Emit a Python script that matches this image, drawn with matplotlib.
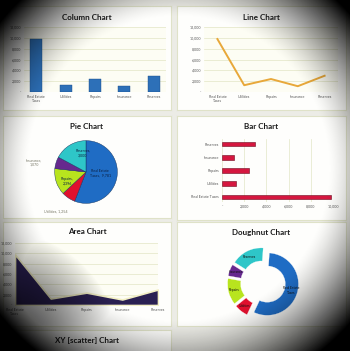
import matplotlib.pyplot as plt
import numpy as np

categories = ['Real Estate Taxes', 'Utilities', 'Repairs', 'Insurance', 'Reserves']
cat_labels = ['Real Estate\nTaxes', 'Utilities', 'Repairs', 'Insurance', 'Reserves']
values = [9781, 1254, 2396, 1070, 3000]
pie_colors = ['#1f6cc4', '#e0102e', '#b8e41e', '#66298e', '#2ec6c8']

W, H = 350, 351
plt.rcParams['font.family'] = ['Lato', 'DejaVu Sans']
fig = plt.figure(figsize=(W / 100, H / 100), dpi=100)
fig.patch.set_facecolor('#ecece6')


def box(x0, y0, x1, y1):
    # pixel box (top-left origin) -> figure fraction
    return [x0 / W, 1 - y1 / H, (x1 - x0) / W, (y1 - y0) / H]


def panel(x0, y0, x1, y1, title, ty):
    p = fig.add_axes(box(x0, y0, x1, y1))
    p.set_xticks([])
    p.set_yticks([])
    p.set_facecolor('#fefefc')
    for s in p.spines.values():
        s.set_color('#dfe2c8')
        s.set_linewidth(0.8)
    fig.text(((x0 + x1) / 2) / W, 1 - ty / H, title, ha='center', va='center',
             fontsize=5.8, fontweight='bold', color='#1a1a1a')


def tidy(ax):
    ax.set_facecolor('#fdfdf4')
    for s in ax.spines.values():
        s.set_visible(False)
    ax.tick_params(length=0, labelsize=2.6, colors='#555555', pad=2)


def money(v):
    return '-' if v == 0 else f'{v:,}'


panel(3, 6, 171, 110, 'Column Chart', 17)
panel(177, 6, 346, 110, 'Line Chart', 17)
panel(3, 116, 171, 218, 'Pie Chart', 126)
panel(177, 116, 346, 220, 'Bar Chart', 126)
panel(3, 222, 171, 326, 'Area Chart', 232)
panel(177, 222, 346, 326, 'Doughnut Chart', 232)
panel(3, 330, 171, 360, 'XY [scatter] Chart', 340)

yt = list(range(0, 12001, 2000))
x = np.arange(len(values))

# column chart
ax = fig.add_axes(box(24, 27, 166, 92))
tidy(ax)
ax.bar(x, values, width=0.4, color='#2d70b8', edgecolor='#1c4c86', linewidth=0.3)
ax.set_ylim(0, 12000)
ax.set_yticks(yt, [money(v) for v in yt])
ax.set_xticks(x, cat_labels)
ax.yaxis.grid(True, color='#e2e6c6', linewidth=0.5)
ax.set_axisbelow(True)

# line chart
ax = fig.add_axes(box(204, 27, 338, 92))
tidy(ax)
ax.plot(x, values, color='#e8a83a', linewidth=1.4)
ax.set_ylim(0, 12000)
ax.set_xlim(-0.5, 4.5)
ax.set_yticks(yt, [money(v) for v in yt])
ax.set_xticks(x, cat_labels)
ax.yaxis.grid(True, color='#e2e6c6', linewidth=0.5)

# pie chart
ax = fig.add_axes(box(54, 140, 118, 204))
ax.pie(values, colors=pie_colors, startangle=90, counterclock=False,
       wedgeprops=dict(edgecolor='#10305a', linewidth=0.3))
ax.set_xlim(-1.02, 1.02)
ax.set_ylim(-1.02, 1.02)
ax.set_aspect('equal')
ax.text(0.45, -0.05, 'Real Estate\nTaxes,  9,781', ha='center', va='center', fontsize=2.6, color='#0b1f40')
ax.text(-0.1, 0.6, 'Reserves,\n3,000', ha='center', va='center', fontsize=2.6, color='#0b1f40')
ax.text(-0.6, -0.3, 'Repairs,\n2,396', ha='center', va='center', fontsize=2.6, color='#0b1f40')
ax.text(-1.65, 0.3, 'Insurance,\n1,070', ha='center', va='center', fontsize=2.6, color='#777766')
ax.text(-0.95, -1.25, 'Utilities, 1,254', ha='center', va='center', fontsize=2.6, color='#777766')

# bar chart
ax = fig.add_axes(box(222, 139, 333, 202))
tidy(ax)
xt = list(range(0, 10001, 2000))
ax.barh(x, values, height=0.35, color='#d5173f', edgecolor='#6e0a1e', linewidth=0.4)
ax.set_xlim(0, 10000)
ax.set_xticks(xt, [money(v) for v in xt])
ax.set_yticks(x, categories)
ax.xaxis.grid(True, color='#e2e6c6', linewidth=0.5)
ax.set_axisbelow(True)
ax.set_facecolor('#fefefc')

# area chart
ax = fig.add_axes(box(15, 243, 158, 305))
tidy(ax)
ax.fill_between(x, values, color='#2a2052', edgecolor='#f2efc4', linewidth=1.2)
ax.set_xlim(0, 4)
ax.set_ylim(0, 12000)
ax.set_yticks(yt, [money(v) for v in yt])
ax.set_xticks(x, cat_labels)
ax.yaxis.grid(True, color='#e2e6c6', linewidth=0.5)
ax.set_axisbelow(True)

# doughnut chart
ax = fig.add_axes(box(222, 244, 304, 322))
ax.pie(values, colors=pie_colors, startangle=86, counterclock=False,
       explode=[0.14] * 5, wedgeprops=dict(width=0.42, edgecolor='white', linewidth=0.2),
       labels=['Real Estate\nTaxes', 'Utilities', 'Repairs', 'Insurance', 'Reserves'],
       labeldistance=0.8, textprops=dict(fontsize=2.4, color='#111111', ha='center', va='center'))
ax.set_aspect('equal')

# photo vignette
ov = fig.add_axes([0, 0, 1, 1], zorder=50)
ov.axis('off')
yy, xx = np.mgrid[0:H, 0:W]
d = np.sqrt(((xx - 178) / 178.0) ** 2 + ((yy - 168) / 180.0) ** 2)
a = np.clip((d - 0.84) / 0.45, 0, 1) ** 1.4
corner = np.clip(1 - np.hypot(xx, yy - H) / 120.0, 0, 1) ** 0.9
a = np.maximum(a, corner)
img = np.zeros((H, W, 4))
img[..., 3] = a
ov.imshow(img, extent=[0, 1, 0, 1], aspect='auto', origin='upper')
ov.set_xlim(0, 1)
ov.set_ylim(0, 1)

fig.savefig('out.png', dpi=100)
